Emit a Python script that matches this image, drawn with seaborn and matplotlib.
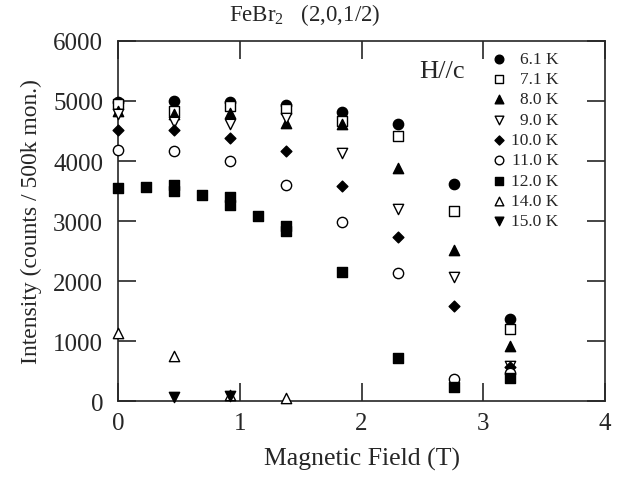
import numpy as np
import pandas as pd
import matplotlib
matplotlib.use("Agg")
import matplotlib.pyplot as plt
import seaborn as sns

# ---- data ----
temps = ["6.1 K", "7.1 K", "8.0 K", "9.0 K", "10.0 K", "11.0 K", "12.0 K", "14.0 K", "15.0 K"]
fields_std = [0.0, 0.46, 0.92, 1.38, 1.84, 2.30, 2.76, 3.22]

int_61 = [4980, 4995, 4980, 4940, 4820, 4610, 3610, 1370]
int_71 = [4950, 4840, 4920, 4860, 4670, 4410, 3160, 1200]
int_80 = [4830, 4780, 4800, 4630, 4620, 3890, 2520, 910]
int_90 = [4790, 4650, 4620, 4710, 4140, 3200, 2060, 580]
int_100 = [4510, 4520, 4380, 4170, 3590, 2740, 1590, 560]
int_110 = [4190, 4170, 4005, 3600, 2980, 2130, 370, 470]

fields_12 = [0.0, 0.23, 0.46, 0.46, 0.69, 0.92, 0.92, 1.15, 1.38, 1.38, 1.84, 2.30, 2.76, 3.22]
int_120 = [3550, 3560, 3600, 3500, 3430, 3400, 3270, 3090, 2920, 2830, 2145, 710, 230, 390]

fields_14 = [0.0, 0.46, 0.92, 1.38]
int_140 = [1130, 755, 100, 55]

fields_15 = [0.46, 0.92]
int_150 = [70, 85]

series = [
    ("6.1 K", fields_std, int_61, "o", True),
    ("7.1 K", fields_std, int_71, "s", False),
    ("8.0 K", fields_std, int_80, "^", True),
    ("9.0 K", fields_std, int_90, "v", False),
    ("10.0 K", fields_std, int_100, "D", True),
    ("11.0 K", fields_std, int_110, "o", False),
    ("12.0 K", fields_12, int_120, "s", True),
    ("14.0 K", fields_14, int_140, "^", False),
    ("15.0 K", fields_15, int_150, "v", True),
]

sizes = {"o": 55, "s": 50, "^": 55, "v": 55, "D": 30}

sns.set_style("ticks")
plt.rcParams["font.family"] = ["Liberation Serif", "DejaVu Serif"]
plt.rcParams["mathtext.fontset"] = "custom"
plt.rcParams["mathtext.rm"] = "Liberation Serif"
plt.rcParams["mathtext.it"] = "Liberation Serif:italic"

fig = plt.figure(figsize=(6.22, 4.81), dpi=100)
ax = fig.add_axes([0.1905, 0.1642, 0.7815, 0.7485])

for label, xs, ys, mk, filled in series:
    df = pd.DataFrame({"field": xs, "intensity": ys})
    face = "black" if filled else "white"
    sns.scatterplot(data=df, x="field", y="intensity", marker=mk, s=sizes[mk],
                    color=face, edgecolor="black", linewidth=1.0, ax=ax,
                    zorder=3, clip_on=False, legend=False)

ax.set_xlim(0, 4)
ax.set_ylim(0, 6000)
ax.set_xticks([0, 1, 2, 3, 4])
ax.set_yticks([0, 1000, 2000, 3000, 4000, 5000, 6000])
ax.tick_params(direction="in", length=13, width=1.2, top=True, right=True,
               labelsize=18)
ax.tick_params(axis="y", pad=11)
ax.tick_params(axis="x", pad=8)
for sp in ax.spines.values():
    sp.set_linewidth(1.2)

ax.set_xlabel("Magnetic Field (T)", fontsize=18.5, labelpad=9)
ax.set_ylabel("Intensity (counts / 500k mon.)", fontsize=17, labelpad=8)
fig.text(0.49, 0.968, "FeBr$_2$   (2,0,1/2)", fontsize=16.5,
         ha="center", va="center")

ax.text(0.665, 0.918, "H//c", transform=ax.transAxes, fontsize=19,
        ha="center", va="center")

# legend: markers on left, labels right-aligned
y0, dy = 0.950, 0.05625
for i, (label, xs, ys, mk, filled) in enumerate(series):
    yy = y0 - i * dy
    face = "black" if filled else "white"
    ax.scatter([0.783], [yy], marker=mk, s=sizes[mk] * 0.7, color=face,
               edgecolor="black", linewidth=1.0, transform=ax.transAxes,
               clip_on=False, zorder=4)
    ax.text(0.905, yy, label, transform=ax.transAxes, fontsize=12.5,
            ha="right", va="center")

fig.savefig("out.png", dpi=100)
